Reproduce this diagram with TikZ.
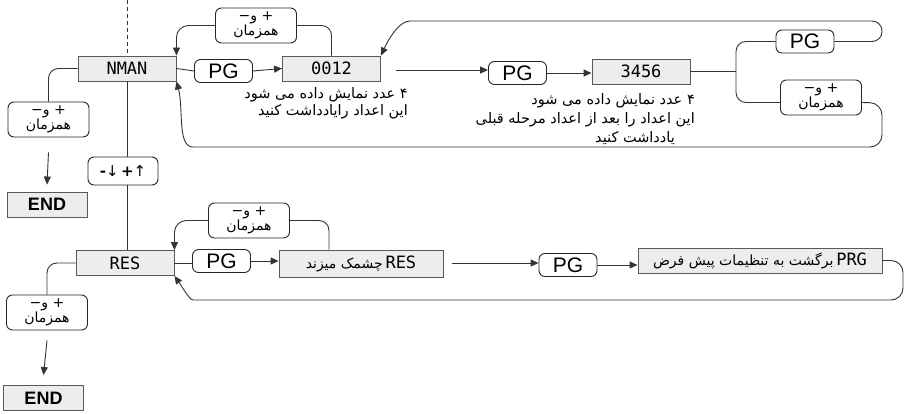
\documentclass[tikz,border=0pt]{standalone}
\usepackage{fontspec}
\setmainfont{DejaVu Sans}
\newfontfamily\fafont[Script=Arabic]{DejaVu Sans}
\newfontfamily\segfont{DejaVu Sans Mono}
\newfontfamily\arialfont{Liberation Sans}
\TeXXeTstate=1
\usetikzlibrary{arrows.meta}
\newcommand\RL[1]{{\fafont\beginR #1\endR}}
\newcommand\hzt{\RL{+ و−}\\[0pt]\RL{همزمان}}
\newcommand\fasmall{\fontsize{14}{14}\selectfont}
\begin{document}
\begin{tikzpicture}[x=1pt,y=-1pt,
  ln/.style={line width=0.9pt, draw=black!80},
  arr/.style={ln, -{Triangle[length=8pt,width=7pt]}},
  disp/.style={draw=black!65, fill=black!7, line width=0.9pt, inner sep=0pt, minimum width=98pt, minimum height=25pt, font=\segfont\fontsize{17}{17}\selectfont},
  keybox/.style={draw=black!85, fill=white, rounded corners=6pt, line width=0.9pt, inner sep=0pt},
  pgbox/.style={keybox, minimum width=58pt, minimum height=23pt, font=\arialfont\fontsize{21}{21}\selectfont},
  hzbox/.style={keybox, minimum width=81pt, minimum height=35pt, align=center, font=\fontsize{14}{13}\selectfont},
  endbox/.style={draw=black!65, fill=black!7, line width=0.9pt, inner sep=0pt, minimum width=80pt, minimum height=25pt, font=\arialfont\bfseries\fontsize{18}{18}\selectfont},
  note/.style={align=right, font=\fontsize{14.5}{17}\selectfont, inner sep=0pt}
]
\useasboundingbox (0,0) rectangle (906,414);

% ---------- top row ----------
\node[disp] (nman) at (127,68.5) {NMAN};
\node[hzbox] (hzL1) at (48.5,119.5) {\hzt};
\node[endbox] (end1) at (47,204.5) {END};
\node[hzbox] (hzA) at (256,25.5) {\hzt};
\node[pgbox] (pg1) at (223.5,71) {PG};
\node[disp] (n12) at (331.5,68.5) {0012};
\node[note, anchor=north east] (t12) at (408,87) {\RL{۴ عدد نمایش داده می شود}\\\RL{این اعداد رایادداشت کنید}};
\node[pgbox] (pg2) at (517.5,73) {PG};
\node[disp] (n34) at (641,71.5) {3456};
\node[note, anchor=north east, font=\fontsize{14.5}{19}\selectfont] (t34) at (695,93) {\RL{۴ عدد نمایش داده می شود}\\\RL{این اعداد را بعد از اعداد مرحله قبلی}};
\node[note, anchor=base east] (t34b) at (675,143) {\RL{یادداشت کنید}};
\node[pgbox] (pgR) at (805,41.5) {PG};
\node[hzbox] (hzR) at (821,97.5) {\hzt};

% ---------- bottom row ----------
\node[disp] (res) at (125,263) {RES};
\node[hzbox] (hzB) at (249,220.5) {\hzt};
\node[pgbox] (pg3) at (221.5,261) {PG};
\node[disp, minimum width=164pt, minimum height=27pt] (blink) at (361,263.5) {{\fasmall\RL{چشمک میزند}}\,RES};
\node[pgbox] (pg4) at (568,265) {PG};
\node[disp, minimum width=244pt] (prg) at (760,260.5) {{\fasmall\RL{برگشت به تنظیمات پیش فرض}}\,PRG};
\node[hzbox] (hzC) at (47,312.5) {\hzt};
\node[endbox] (end2) at (43.5,398) {END};

% ---------- middle key ----------
\draw[ln] (nman.south) -- (res.north -| nman.south);
\node[keybox, minimum width=70pt, minimum height=28pt, font=\fontsize{15}{15}\selectfont] (ud) at (123,171) {\textbf{-}↓\,\textbf{+}↑};

% dashed line on top
\coordinate (dtop) at (127,0);
\draw[ln, dash pattern=on 4pt off 3pt] (dtop) -- (nman.north);

% ---------- top connectors ----------
\draw[ln, rounded corners=10pt] (nman.west) -| (hzL1.north);
\draw[arr] ([yshift=-15pt]hzL1.south) -- ([yshift=7pt]end1.north);
\draw[ln] (nman.east) -- (pg1.west);
\draw[arr] (pg1.east) -- (n12.west);
\draw[ln, rounded corners=10pt] (n12.north) |- (hzA.east);
\draw[arr, rounded corners=12pt] (hzA.west) -| (nman.north east);
\coordinate (a1) at (396,70);
\draw[arr] (a1) -- (a1 -| pg2.west);
\draw[arr] (pg2.east) -- (pg2.east -| n34.west);
\coordinate (jn) at (736,71.5);
\draw[ln] (n34.east) -- (jn);
\draw[ln, rounded corners=10pt] (pgR.west) -| (jn) |- ([yshift=-5pt]hzR.west);
\draw[arr, rounded corners=10pt] (pgR.east) -- (882,41.5) -- (882,21) -- (420,21) to[out=180,in=65] (n12.north east);
\draw[arr, rounded corners=12pt] ([yshift=-5pt]hzR.east) -- (882,103) -- (882,147) -- (205,147) to[out=180,in=-75] (nman.south east);

% ---------- bottom connectors ----------
\draw[ln, rounded corners=10pt] (res.west) -| (hzC.north);
\draw[arr] ([yshift=-10pt]hzC.south) -- ([yshift=10pt]end2.north);
\draw[ln] (res.east) -- (res.east -| pg3.west);
\draw[arr] (pg3.east) -- (pg3.east -| blink.west);
\draw[ln, rounded corners=10pt] ([xshift=-32pt]blink.north) |- (hzB.east);
\draw[arr, rounded corners=12pt] (hzB.west) -| (res.north east);
\coordinate (a2) at (452,263);
\draw[arr] (a2) -- (a2 -| pg4.west);
\draw[arr] (pg4.east) -- (pg4.east -| prg.west);
\draw[arr, rounded corners=12pt] (prg.east) -- (903,260.5) -- (903,300) -- (205,300) to[out=180,in=-55] (res.south east);
\end{tikzpicture}
\end{document}
